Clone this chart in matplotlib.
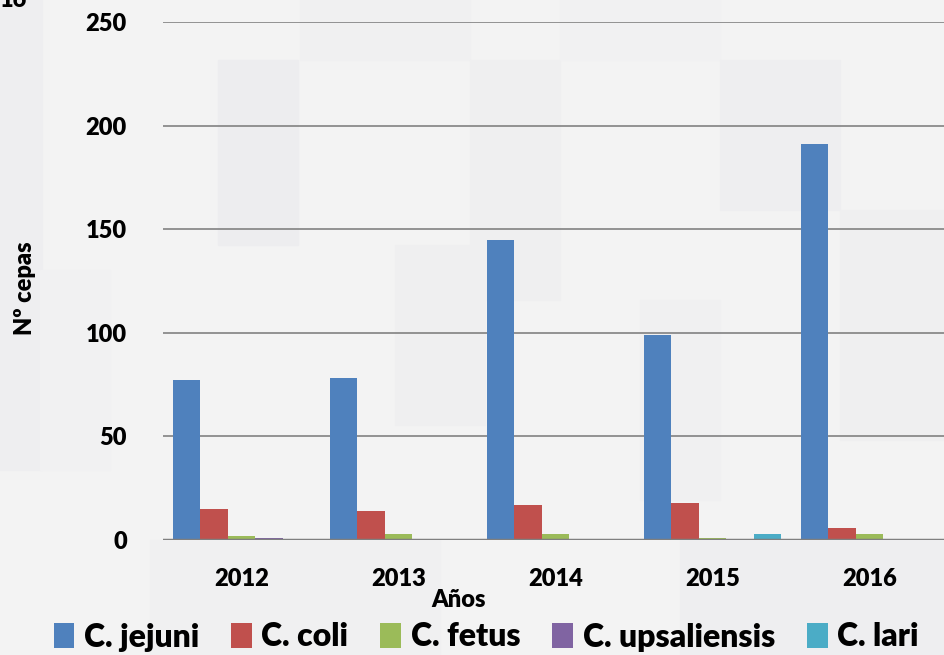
import matplotlib.pyplot as plt
from matplotlib.patches import Rectangle
import numpy as np

# data
years = ['2012', '2013', '2014', '2015', '2016']
species = ['C. jejuni', 'C. coli', 'C. fetus', 'C. upsaliensis', 'C. lari']
jejuni = [77, 78, 145, 99, 191]
coli = [15, 14, 17, 18, 6]
fetus = [2, 3, 3, 1, 3]
upsaliensis = [1, 0, 0, 0, 0]
lari = [0, 0, 0, 3, 0]
colors = ['#4f81bd', '#c0504d', '#9bbb59', '#8064a2', '#4bacc6']

series = [jejuni, coli, fetus, upsaliensis, lari]

plt.rcParams['font.family'] = ['Lato', 'DejaVu Sans']
WT = 'heavy'

fig = plt.figure(figsize=(9.44, 6.55), dpi=100)
fig.patch.set_facecolor('#f3f3f3')

# soft blocky background pattern
W, H = 944, 655
blocks = [(0, 0, 42, 470, '#eeeef0'), (218, 60, 80, 185, '#ededef'),
          (300, 0, 170, 60, '#f0f0f1'), (470, 60, 90, 240, '#efeff0'),
          (395, 245, 90, 180, '#efeff0'), (560, 0, 160, 60, '#f1f1f2'),
          (720, 60, 120, 150, '#eeeef0'), (840, 210, 104, 230, '#efeff0'),
          (640, 300, 80, 200, '#f0f0f1'), (40, 270, 70, 200, '#f1f1f2'),
          (150, 540, 290, 115, '#f0f0f1'), (680, 540, 290, 115, '#eeeef0')]
for bx, by, bw, bh, c in blocks:
    fig.patches.append(Rectangle((bx / W, 1 - (by + bh) / H), bw / W, bh / H,
                                 transform=fig.transFigure, color=c,
                                 zorder=-10))

ax = fig.add_axes([163 / W, (H - 540) / H, 785 / W, 518 / H])
ax.set_facecolor('none')

x = np.arange(len(years))
bw = 0.175
for i, (vals, name) in enumerate(zip(series, species)):
    ax.bar(x + (i - 2) * bw, vals, width=bw, color=colors[i], label=name,
           zorder=3)

ax.set_xlim(-0.5, 4.5)
ax.set_ylim(0, 250)
ax.set_yticks(range(0, 251, 50))
ax.yaxis.grid(True, color='#8a8a8a', linewidth=1.3, zorder=1)
ax.axhline(0, color='#7f7f7f', linewidth=2.5, zorder=4)
for s in ax.spines.values():
    s.set_visible(False)
ax.tick_params(length=0)
ax.tick_params(axis='y', pad=26)
ax.tick_params(axis='x', pad=20)
ax.set_xticks(x)
ax.set_xticklabels(years, fontsize=17, fontweight=WT)
for t in ax.get_yticklabels():
    t.set_fontsize(17)
    t.set_fontweight(WT)

fig.text(25 / W, 1 - 288 / H, 'Nº cepas', rotation=90, ha='center',
         va='center', fontsize=17, fontweight=WT)
fig.text(459 / W, 1 - 600 / H, 'Años', ha='center', va='center',
         fontsize=17, fontweight=WT)
fig.text(0.0, 1.0, '16', ha='left', va='center', fontsize=17,
         fontweight=WT)

handles, labels = ax.get_legend_handles_labels()
leg = fig.legend(handles, labels, loc='center', ncol=5,
                 bbox_to_anchor=(0.515, 1 - 637 / H), frameon=False,
                 handlelength=0.65, handleheight=0.8, handletextpad=0.3,
                 columnspacing=1.0,
                 prop={'family': 'Lato', 'weight': WT, 'size': 23})

fig.savefig('out.png', dpi=100, facecolor=fig.get_facecolor())
